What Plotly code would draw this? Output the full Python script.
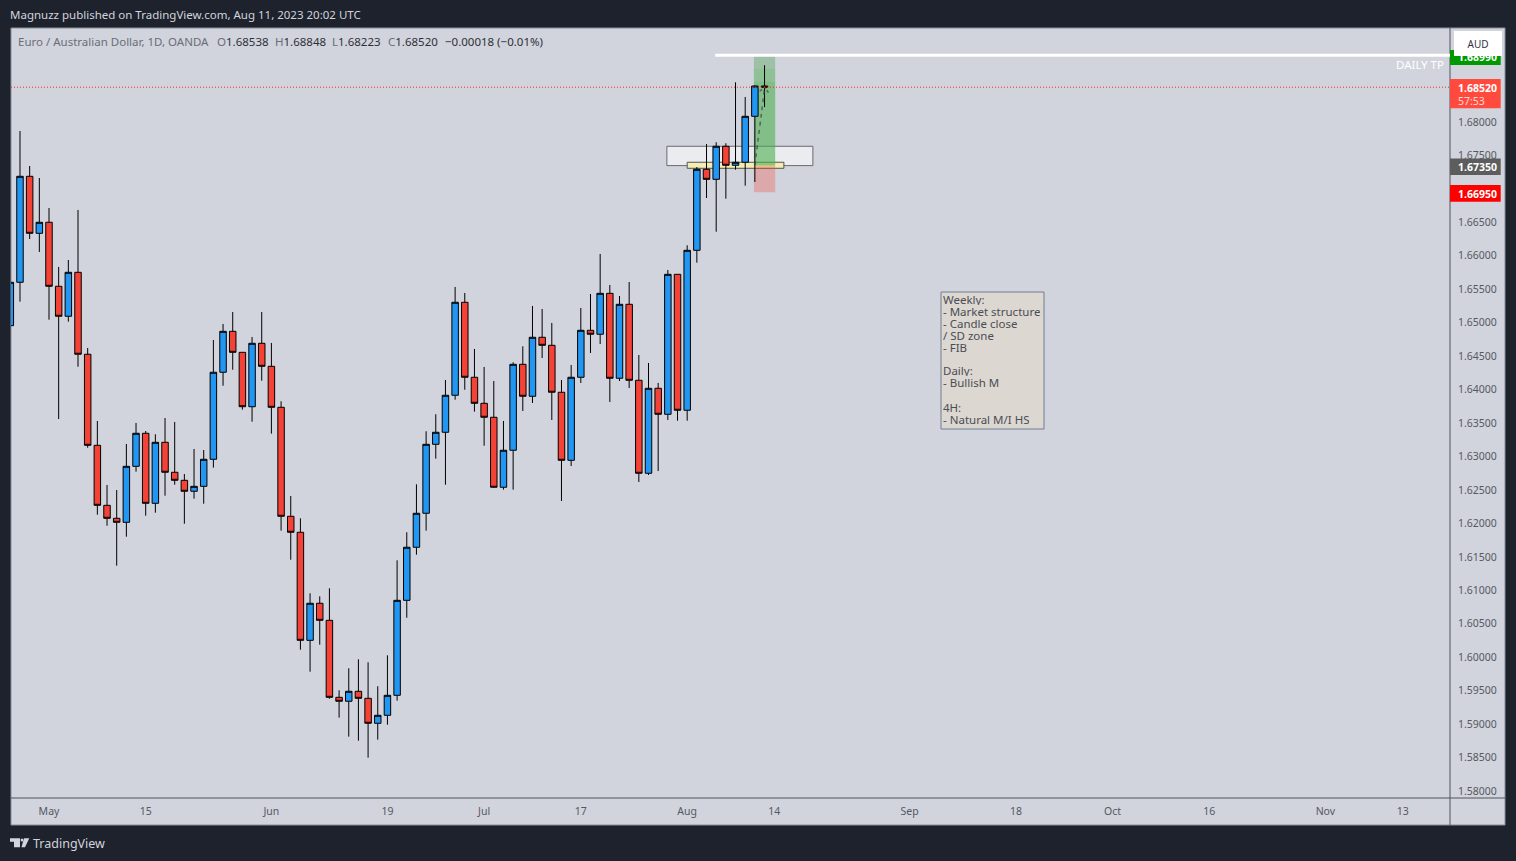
# EUR/AUD daily candles, TradingView look

import plotly.graph_objects as go

opens = [1.64955, 1.65604, 1.67188, 1.66336, 1.66501, 1.65544, 1.65096, 1.65753, 1.64528, 1.63167,
         1.62270, 1.62076, 1.62016, 1.62853, 1.63347, 1.62300, 1.63212, 1.62764, 1.62644, 1.62480,
         1.62554, 1.62958, 1.64259, 1.64871, 1.64557, 1.63744, 1.64692, 1.64348, 1.63735, 1.62106,
         1.61867, 1.60252, 1.60806, 1.60551, 1.59400, 1.59341, 1.59490, 1.59385, 1.59012, 1.59131,
         1.59430, 1.60850, 1.61643, 1.62151, 1.63182, 1.63362, 1.63915, 1.65305, 1.64184, 1.63795,
         1.63586, 1.62540, 1.63093, 1.64378, 1.63900, 1.64782, 1.64662, 1.63960, 1.62943, 1.64184,
         1.64886, 1.64827, 1.65439, 1.64169, 1.65275, 1.64139, 1.62749, 1.64019, 1.63631, 1.65723,
         1.63691, 1.66082, 1.67293, 1.67143, 1.67637, 1.67353, 1.67398, 1.68085, 1.68538]
highs = [1.65877, 1.67865, 1.67342, 1.67163, 1.66714, 1.65833, 1.65937, 1.66685, 1.64622, 1.63531,
         1.62574, 1.62499, 1.63187, 1.63501, 1.63381, 1.63332, 1.63575, 1.63516, 1.62738, 1.63112,
         1.63097, 1.64741, 1.64981, 1.65160, 1.64557, 1.64786, 1.65160, 1.64697, 1.63825, 1.62409,
         1.62076, 1.60955, 1.60910, 1.61030, 1.59505, 1.59834, 1.59968, 1.59924, 1.59565, 1.60028,
         1.61448, 1.61867, 1.62584, 1.63377, 1.63631, 1.64143, 1.65534, 1.65444, 1.64607, 1.64338,
         1.64128, 1.63531, 1.64408, 1.64647, 1.65250, 1.65205, 1.64996, 1.64143, 1.64368, 1.65220,
         1.65429, 1.66027, 1.65564, 1.65399, 1.65608, 1.64517, 1.64398, 1.64099, 1.65788, 1.65723,
         1.66157, 1.67327, 1.67671, 1.67697, 1.67682, 1.68593, 1.68374, 1.68549, 1.68848]
lows = [1.64880, 1.65314, 1.66251, 1.66057, 1.65045, 1.63560, 1.65015, 1.64342, 1.63131, 1.62130,
        1.61965, 1.61368, 1.61801, 1.62773, 1.62115, 1.62160, 1.62414, 1.62578, 1.61995, 1.62369,
        1.62294, 1.62833, 1.64058, 1.64297, 1.63700, 1.63520, 1.64133, 1.63341, 1.61891, 1.61457,
        1.60112, 1.59783, 1.60187, 1.59379, 1.59096, 1.58812, 1.58752, 1.58498, 1.58767, 1.58991,
        1.59350, 1.60590, 1.61532, 1.61891, 1.62967, 1.62578, 1.63849, 1.63998, 1.63670, 1.63161,
        1.62530, 1.62504, 1.62504, 1.63680, 1.63800, 1.64472, 1.63546, 1.62335, 1.62858, 1.64099,
        1.64547, 1.64682, 1.63815, 1.64128, 1.64024, 1.62619, 1.62723, 1.62783, 1.63546, 1.63535,
        1.63535, 1.65897, 1.66864, 1.66360, 1.66854, 1.67287, 1.67048, 1.67103, 1.68223]
closes = [1.65604, 1.67188, 1.66336, 1.66501, 1.65544, 1.65096, 1.65753, 1.64528, 1.63167, 1.62270,
          1.62076, 1.62016, 1.62853, 1.63347, 1.62300, 1.63212, 1.62764, 1.62644, 1.62480, 1.62554,
          1.62958, 1.64259, 1.64871, 1.64557, 1.63744, 1.64692, 1.64348, 1.63735, 1.62106, 1.61867,
          1.60252, 1.60806, 1.60551, 1.59400, 1.59341, 1.59490, 1.59385, 1.59012, 1.59131, 1.59430,
          1.60850, 1.61643, 1.62151, 1.63182, 1.63362, 1.63915, 1.65305, 1.64184, 1.63795, 1.63586,
          1.62540, 1.63093, 1.64378, 1.63900, 1.64782, 1.64662, 1.63960, 1.62943, 1.64184, 1.64886,
          1.64827, 1.65439, 1.64169, 1.65275, 1.64139, 1.62749, 1.64019, 1.63631, 1.65723, 1.63691,
          1.66082, 1.67293, 1.67143, 1.67637, 1.67353, 1.67398, 1.68085, 1.68538, 1.68520]
bars = list(range(len(closes)))

date_ticks = [4, 14, 27, 39, 49, 59, 70, 79, 93, 104, 114, 124, 136, 144]
date_labels = ["May", "15", "Jun", "19", "Jul", "17", "Aug", "14", "Sep", "18", "Oct", "16", "Nov", "13"]
# 1.67000 sits behind the red stop tag in the original, so it is left out
price_ticks = [1.58, 1.585, 1.59, 1.595, 1.60, 1.605, 1.61, 1.615, 1.62, 1.625, 1.63, 1.635, 1.64,
               1.645, 1.65, 1.655, 1.66, 1.665, 1.675, 1.68]

last_price = 1.68520
entry_price = 1.67350
stop_price = 1.66950
tp_line_price = 1.68997
forecast_x = [77.0, 77.3, 77.7, 78.0]
forecast_y = [1.6735, 1.6770, 1.6815, 1.6852]
note_lines = ["Weekly:", "- Market structure", "- Candle close", "/ SD zone", "- FIB", "",
              "Daily:", "- Bullish M", "", "4H:", "- Natural M/I HS"]
ohlc_letters = ["O", "H", "L", "C"]
ohlc_values = ["1.68538", "1.68848", "1.68223", "1.68520"]

FONT = "Noto Sans"
DARK = "#1e222d"
PANEL = "#d1d4dc"
AXIS_TEXT = "#555862"
TITLE_GREY = "#6a6d78"
VALUE_DARK = "#2e3038"


# page pixels to paper fractions
def px(x):
    return (x - 11) / 1439


def py(y):
    return (798 - y) / 770


def rect_px(x0, y0, x1, y1, **kw):
    return dict(type="rect", xref="paper", yref="paper", x0=px(x0), x1=px(x1), y0=py(y0), y1=py(y1), **kw)


def path_px(points, color):
    d = "M" + "L".join(f"{px(a):.5f},{py(b):.5f}" for a, b in points) + "Z"
    return dict(type="path", xref="paper", yref="paper", path=d, fillcolor=color, line_width=0)


def text_px(text, x, y, size=11.5, color=AXIS_TEXT, anchor="left", **kw):
    return dict(text=text, xref="paper", yref="paper", x=px(x), y=py(y), xanchor=anchor, yanchor="middle",
                showarrow=False, borderwidth=0, borderpad=0,
                font=dict(family=FONT, size=size, color=color), **kw)


fig = go.Figure()

fig.add_trace(go.Candlestick(
    x=bars, open=opens, high=highs, low=lows, close=closes,
    increasing=dict(fillcolor="#2196f3", line=dict(color="#000000", width=1)),
    decreasing=dict(fillcolor="#f44336", line=dict(color="#000000", width=1)),
    whiskerwidth=0,
    showlegend=False,
))

# forecast arrow on the last bar
fig.add_trace(go.Scatter(x=forecast_x, y=forecast_y, mode="lines",
                         line=dict(color="rgba(70,70,70,0.75)", width=1.5, dash="4px,4px", shape="spline"),
                         showlegend=False, hoverinfo="skip"))
fig.add_trace(go.Scatter(x=[77.5, 78.0, 78.4], y=[1.6846, 1.6852, 1.6844], mode="lines",
                         line=dict(color="rgba(70,70,70,0.75)", width=1.5, dash="3px,2px"),
                         showlegend=False, hoverinfo="skip"))

shapes = [
    # chart panel and pane separators
    rect_px(11, 28, 1505, 825, fillcolor=PANEL, line=dict(color="#8a8e99", width=1), layer="below"),
    dict(type="line", xref="paper", yref="paper", x0=px(1450), x1=px(1450), y0=py(28), y1=py(825),
         line=dict(color="#50535e", width=1)),
    dict(type="line", xref="paper", yref="paper", x0=px(11), x1=px(1505), y0=py(798), y1=py(798),
         line=dict(color="#50535e", width=1)),
    # zones
    dict(type="rect", x0=67.9, x1=83.0, y0=1.67348, y1=1.67637, fillcolor="rgba(255,255,255,0.55)",
         line=dict(color="#666a70", width=1), layer="below"),
    dict(type="rect", x0=70.0, x1=80.0, y0=1.67308, y1=1.67398, fillcolor="#f3ecb4",
         line=dict(color="#55544a", width=1), layer="below"),
    # position tool
    dict(type="rect", x0=76.9, x1=79.1, y0=stop_price, y1=entry_price, fillcolor="rgba(244,67,54,0.3)",
         line_width=0, layer="below"),
    dict(type="rect", x0=76.9, x1=79.1, y0=entry_price, y1=1.6860, fillcolor="rgba(76,175,80,0.6)",
         line_width=0, layer="below"),
    dict(type="rect", x0=76.9, x1=79.1, y0=1.6860, y1=1.6880, fillcolor="rgba(76,175,80,0.5)",
         line_width=0, layer="below"),
    dict(type="rect", x0=76.9, x1=79.1, y0=1.6880, y1=1.6900, fillcolor="rgba(76,160,80,0.38)",
         line_width=0, layer="below"),
    # last price and take profit lines
    dict(type="line", xref="paper", x0=0, x1=1, y0=last_price, y1=last_price,
         line=dict(color="#ff2a1a", width=1, dash="1px,2px")),
    dict(type="line", x0=72.9, x1=148.89, y0=tp_line_price, y1=tp_line_price,
         line=dict(color="#ffffff", width=3)),
    # price tags on the axis
    rect_px(1450, 50, 1500.7, 65, fillcolor="#009900", line_width=0),
    rect_px(1450, 79, 1500.7, 108.3, fillcolor="#ff4a3d", line_width=0),
    rect_px(1450, 158.5, 1500.7, 175, fillcolor="#5d5d5d", line_width=0),
    rect_px(1450, 185, 1500.7, 201.7, fillcolor="#ff0000", line_width=0),
    # note box
    rect_px(941, 292, 1044, 429, fillcolor="#dcd7d0", line=dict(color="#6d7f93", width=1)),
    # logo
    path_px([(10, 838.3), (20, 838.3), (20, 847.3), (14, 847.3), (14, 841.7), (10, 841.7)], "#d1d4dc"),
    path_px([(24, 838.3), (29.3, 838.3), (25, 847.3), (21.5, 847.3)], "#d1d4dc"),
    dict(type="circle", xref="paper", yref="paper", x0=px(20.6), x1=px(23.4), y0=py(841.6), y1=py(838.4),
         fillcolor="#d1d4dc", line_width=0),
]

annotations = [
    text_px("Magnuzz published on TradingView.com, Aug 11, 2023 20:02 UTC", 10, 14.5, color="#d1d4dc"),
    text_px("Euro / Australian Dollar, 1D, OANDA", 18, 41.5, color=TITLE_GREY),
    text_px("−0.00018 (−0.01%)", 445, 41.5, color=VALUE_DARK),
    text_px("DAILY TP", 1444, 64.5, color="#ffffff", anchor="right"),
    text_px("TradingView", 33, 843.5, size=12.5, color="#d1d4dc"),
    text_px("<b>1.68990</b>", 1458, 57, size=10.5, color="#ffffff"),
    text_px("<b>1.68520</b>", 1458, 88, size=10.5, color="#ffffff"),
    text_px("57:53", 1458, 101, size=10.5, color="#ffd9d5"),
    text_px("<b>1.67350</b>", 1458, 167, size=10.5, color="#ffffff"),
    text_px("<b>1.66950</b>", 1458, 194, size=10.5, color="#ffffff"),
    dict(text="AUD", xref="paper", yref="paper", x=px(1454), y=py(43.5), xanchor="left", yanchor="middle",
         showarrow=False, width=48, height=25, bgcolor="#ffffff", align="center", borderwidth=0, borderpad=0,
         font=dict(family=FONT, size=10, color="#30333c")),
]
for letter, value, x_pos in zip(ohlc_letters, ohlc_values, [217, 275, 332, 388]):
    annotations.append(text_px(f'<span style="color:{TITLE_GREY}">{letter}</span>{value}',
                               x_pos, 41.5, color=VALUE_DARK))
for n, line in enumerate(note_lines):
    if line:
        annotations.append(text_px(line, 943, 298.5 + 12 * n, color="#4a4d55", height=12))

fig.update_layout(
    width=1516, height=861, autosize=False,
    margin=dict(l=11, r=66, t=28, b=63, pad=0),
    paper_bgcolor=DARK, plot_bgcolor=PANEL,
    font=dict(family=FONT, size=10.5, color=AXIS_TEXT),
    boxgap=0.33, boxgroupgap=0,
    shapes=shapes, annotations=annotations,
    xaxis=dict(range=[0.07, 148.89], rangeslider=dict(visible=False), showgrid=False, zeroline=False,
               tickmode="array", tickvals=date_ticks, ticktext=date_labels, ticks="", showline=False,
               ticklabelstandoff=5),
    yaxis=dict(range=[1.57895, 1.69405], side="right", showgrid=False, zeroline=False,
               tickmode="array", tickvals=price_ticks, tickformat=".5f", ticks="", showline=False,
               ticklabelstandoff=7),
)

fig.write_html("out.html", config={"displayModeBar": False},
               post_script="document.body.style.margin='0';document.body.style.background='#1e222d';")
